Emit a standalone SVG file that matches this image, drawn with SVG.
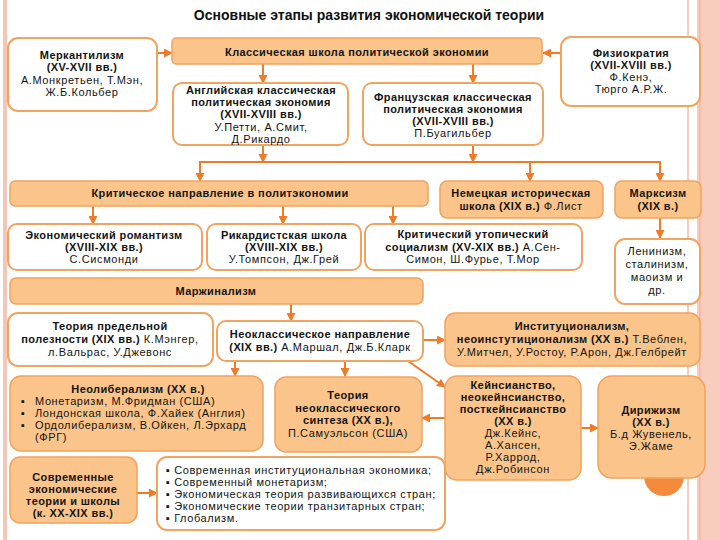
<svg xmlns="http://www.w3.org/2000/svg" width="720" height="540" viewBox="0 0 720 540">
<defs>
<style>
.t{font-family:"Liberation Sans",Arial,"DejaVu Sans",sans-serif;font-size:11px;letter-spacing:0.6px;fill:#141414}
.b{font-weight:bold;letter-spacing:0.4px}
.c{text-anchor:middle}
.ttl{font-family:"Liberation Sans",Arial,sans-serif;font-size:14px;font-weight:bold;fill:#111;text-anchor:middle}
.wb{fill:#fff;stroke:#F0A462;stroke-width:2}
.ob{fill:#FAC48A;stroke:#F2A25C;stroke-width:1.5}
.cn{stroke:#EE7B2A;stroke-width:2;fill:none}
.ar{stroke:#EE7B2A;stroke-width:2;fill:none;marker-end:url(#ah)}
</style>
<marker id="ah" markerUnits="userSpaceOnUse" markerWidth="9" markerHeight="9" refX="8" refY="4.5" orient="auto">
<path d="M0,0 L9,4.5 L0,9 Z" fill="#EE7B2A"/>
</marker>
</defs>
<rect width="720" height="540" fill="#fff"/>
<rect x="3" y="0" width="4" height="540" fill="#F6C6B4"/>
<rect x="687" y="0" width="2" height="540" fill="#F3CFC2"/>
<rect x="697" y="0" width="23" height="540" fill="#F9CDBD"/>
<rect x="699" y="0" width="1.5" height="540" fill="#F3B7A2"/>
<circle cx="664" cy="476" r="20" fill="#F48A3C"/>

<text class="ttl" x="369" y="20">Основные этапы развития экономической теории</text>

<g id="connectors">
<line class="ar" x1="157" y1="53" x2="172" y2="53"/>
<line class="ar" x1="561" y1="53" x2="543" y2="53"/>
<line class="ar" x1="263" y1="64" x2="263" y2="83"/>
<line class="ar" x1="473" y1="64" x2="473" y2="83"/>
<line class="ar" x1="263" y1="145" x2="263" y2="162"/>
<line class="ar" x1="473" y1="145" x2="473" y2="162"/>
<line class="cn" x1="199" y1="162" x2="661" y2="162"/>
<line class="ar" x1="200" y1="162" x2="200" y2="181"/>
<line class="ar" x1="530" y1="162" x2="530" y2="181"/>
<line class="ar" x1="660" y1="162" x2="660" y2="181"/>
<line class="ar" x1="660" y1="218" x2="660" y2="238"/>
<line class="ar" x1="93" y1="206" x2="93" y2="224"/>
<line class="ar" x1="283" y1="206" x2="283" y2="224"/>
<line class="ar" x1="393" y1="206" x2="393" y2="224"/>
<line class="ar" x1="291" y1="304" x2="291" y2="321"/>
<line class="ar" x1="423" y1="340" x2="445" y2="340"/>
<line class="ar" x1="408" y1="361" x2="445" y2="387"/>
<line class="ar" x1="235" y1="361" x2="235" y2="376"/>
<line class="ar" x1="345" y1="361" x2="345" y2="376"/>
<line class="ar" x1="445" y1="418" x2="422" y2="418"/>
<line class="ar" x1="581" y1="428" x2="598" y2="428"/>
<line class="ar" x1="137" y1="493" x2="157" y2="493"/>
</g>

<g id="mercantilism">
<rect class="wb" x="8" y="38" width="149" height="73" rx="10"/>
<text class="t c b" x="82" y="59">Меркантилизм</text>
<text class="t c b" x="82" y="71">(XV-XVII вв.)</text>
<text class="t c" x="82" y="84">А.Монкретьен, Т.Мэн,</text>
<text class="t c" x="82" y="96">Ж.Б.Кольбер</text>
</g>

<g id="classical">
<rect class="ob" x="172" y="38" width="370" height="26" rx="4"/>
<text class="t c b" x="357" y="56">Классическая школа политической экономии</text>
</g>

<g id="physiocracy">
<rect class="wb" x="561" y="37" width="139" height="69" rx="10"/>
<text class="t c b" x="631" y="57">Физиократия</text>
<text class="t c b" x="631" y="69">(XVII-XVIII вв.)</text>
<text class="t c" x="631" y="81">Ф.Кенэ,</text>
<text class="t c" x="631" y="93">Тюрго А.Р.Ж.</text>
</g>

<g id="english">
<rect class="wb" x="173" y="83" width="175" height="62" rx="9"/>
<text class="t c b" x="261" y="94">Английская классическая</text>
<text class="t c b" x="261" y="106">политическая экономия</text>
<text class="t c b" x="261" y="118">(XVII-XVIII вв.)</text>
<text class="t c" x="261" y="131">У.Петти, А.Смит,</text>
<text class="t c" x="261" y="143">Д.Рикардо</text>
</g>

<g id="french">
<rect class="wb" x="363" y="83" width="180" height="62" rx="9"/>
<text class="t c b" x="453" y="101">Французская классическая</text>
<text class="t c b" x="453" y="113">политическая экономия</text>
<text class="t c b" x="453" y="125">(XVII-XVIII вв.)</text>
<text class="t c" x="453" y="137">П.Буагильбер</text>
</g>

<g id="critical">
<rect class="ob" x="10" y="181" width="418" height="25" rx="5"/>
<text class="t c b" x="220" y="197">Критическое направление в политэкономии</text>
</g>

<g id="german">
<rect class="ob" x="440" y="181" width="163" height="37" rx="7"/>
<text class="t c b" x="521" y="197">Немецкая историческая</text>
<text class="t c" x="521" y="210"><tspan class="b">школа (XIX в.)</tspan> Ф.Лист</text>
</g>

<g id="marxism">
<rect class="ob" x="615" y="181" width="86" height="37" rx="7"/>
<text class="t c b" x="658" y="197">Марксизм</text>
<text class="t c b" x="658" y="210">(XIX в.)</text>
</g>

<g id="leninism">
<rect class="wb" x="615" y="239" width="85" height="65" rx="10"/>
<text class="t c" x="657" y="255">Ленинизм,</text>
<text class="t c" x="657" y="268">сталинизм,</text>
<text class="t c" x="657" y="281">маоизм и</text>
<text class="t c" x="657" y="294">др.</text>
</g>

<g id="romanticism">
<rect class="wb" x="8" y="224" width="194" height="46" rx="9"/>
<text class="t c b" x="104" y="239">Экономический романтизм</text>
<text class="t c b" x="104" y="251">(XVIII-XIX вв.)</text>
<text class="t c" x="104" y="263">С.Сисмонди</text>
</g>

<g id="ricardian">
<rect class="wb" x="207" y="224" width="154" height="46" rx="9"/>
<text class="t c b" x="284" y="239">Рикардистская школа</text>
<text class="t c b" x="284" y="251">(XVIII-XIX вв.)</text>
<text class="t c" x="284" y="263">У.Томпсон, Дж.Грей</text>
</g>

<g id="utopian">
<rect class="wb" x="365" y="224" width="217" height="46" rx="9"/>
<text class="t c b" x="473" y="238">Критический утопический</text>
<text class="t c" x="473" y="251"><tspan class="b">социализм (XV-XIX вв.)</tspan> А.Сен-</text>
<text class="t c" x="473" y="263">Симон, Ш.Фурье, Т.Мор</text>
</g>

<g id="marginalism">
<rect class="ob" x="10" y="278" width="413" height="26" rx="6"/>
<text class="t c b" x="216" y="295">Маржинализм</text>
</g>

<g id="utility">
<rect class="wb" x="8" y="313" width="205" height="53" rx="10"/>
<text class="t c b" x="110" y="330">Теория предельной</text>
<text class="t c" x="110" y="343"><tspan class="b">полезности (XIX вв.)</tspan> К.Мэнгер,</text>
<text class="t c" x="110" y="356">л.Вальрас, У.Джевонс</text>
</g>

<g id="neoclassical">
<rect class="wb" x="217" y="321" width="206" height="40" rx="9"/>
<text class="t c b" x="320" y="338">Неоклассическое направление</text>
<text class="t c" x="320" y="351"><tspan class="b">(XIX вв.)</tspan> А.Маршал, Дж.Б.Кларк</text>
</g>

<g id="institutionalism">
<rect class="ob" x="445" y="313" width="255" height="53" rx="10"/>
<text class="t c b" x="572" y="330">Институционализм,</text>
<text class="t c" x="572" y="343"><tspan class="b">неоинстутиционализм (XX в.)</tspan> Т.Веблен,</text>
<text class="t c" x="572" y="356">У.Митчел, У.Ростоу, Р.Арон, Дж.Гелбрейт</text>
</g>

<g id="neoliberalism">
<rect class="ob" x="10" y="376" width="253" height="75" rx="11"/>
<text class="t c b" x="138" y="393">Неолиберализм (XX в.)</text>
<text class="t" x="21" y="405">▪</text>
<text class="t" x="35" y="405">Монетаризм, М.Фридман (США)</text>
<text class="t" x="21" y="417">▪</text>
<text class="t" x="35" y="417">Лондонская школа, Ф.Хайек (Англия)</text>
<text class="t" x="21" y="429">▪</text>
<text class="t" x="35" y="429">Ордолиберализм, В.Ойкен, Л.Эрхард</text>
<text class="t" x="35" y="441">(ФРГ)</text>
</g>

<g id="synthesis">
<rect class="ob" x="275" y="377" width="147" height="75" rx="11"/>
<text class="t c b" x="348" y="399">Теория</text>
<text class="t c b" x="348" y="412">неоклассического</text>
<text class="t c b" x="348" y="424">синтеза (XX в.),</text>
<text class="t c" x="348" y="437">П.Самуэльсон (США)</text>
</g>

<g id="keynesianism">
<rect class="ob" x="445" y="376" width="136" height="104" rx="12"/>
<text class="t c b" x="513" y="389">Кейнсианство,</text>
<text class="t c b" x="513" y="401">неокейнсианство,</text>
<text class="t c b" x="513" y="413">посткейнсианство</text>
<text class="t c b" x="513" y="425">(XX в.)</text>
<text class="t c" x="513" y="437">Дж.Кейнс,</text>
<text class="t c" x="513" y="449">А.Хансен,</text>
<text class="t c" x="513" y="461">Р.Харрод,</text>
<text class="t c" x="513" y="473">Дж.Робинсон</text>
</g>

<g id="dirigisme">
<rect class="ob" x="598" y="376" width="107" height="102" rx="14"/>
<text class="t c b" x="651" y="414">Дирижизм</text>
<text class="t c b" x="651" y="426">(XX в.)</text>
<text class="t c" x="651" y="438">Б.д Жувенель,</text>
<text class="t c" x="651" y="450">Э.Жаме</text>
</g>

<g id="modern">
<rect class="ob" x="10" y="457" width="127" height="66" rx="10"/>
<text class="t c b" x="73" y="481">Современные</text>
<text class="t c b" x="73" y="493">экономические</text>
<text class="t c b" x="73" y="505">теории и школы</text>
<text class="t c b" x="73" y="517">(к. XX-XIX вв.)</text>
</g>

<g id="modern-list">
<rect class="wb" x="157" y="457" width="288" height="73" rx="10"/>
<text class="t" x="166" y="474">▪ Современная институциональная экономика;</text>
<text class="t" x="166" y="486">▪ Современный монетаризм;</text>
<text class="t" x="166" y="498">▪ Экономическая теория развивающихся стран;</text>
<text class="t" x="166" y="510">▪ Экономические теории транзитарных стран;</text>
<text class="t" x="166" y="522">▪ Глобализм.</text>
</g>
</svg>
